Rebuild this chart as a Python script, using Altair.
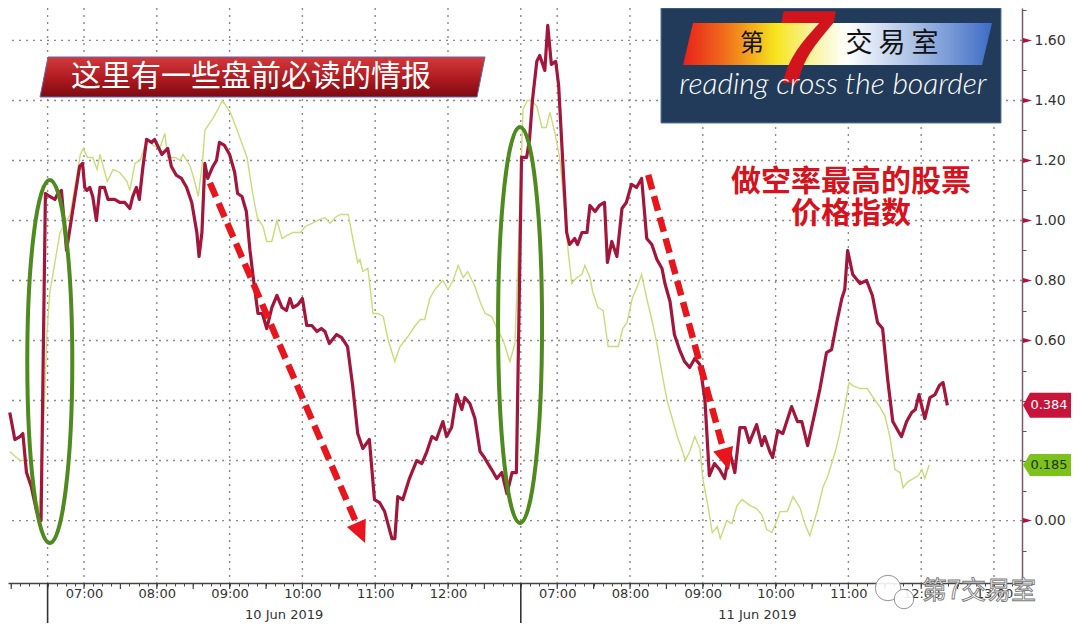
import altair as alt
import numpy as np
import pandas as pd

# ---------------- data (x = trading hours; day 2 clock time + 6.5) ----------------
red_t = [5.98, 6.05, 6.12, 6.16, 6.21, 6.28, 6.35, 6.41, 6.47, 6.53,
         6.60, 6.64, 6.69, 6.76, 6.83, 6.94, 6.98, 7.01, 7.04, 7.08,
         7.12, 7.17, 7.22, 7.28, 7.33, 7.42, 7.49, 7.56, 7.63, 7.67,
         7.72, 7.76, 7.81, 7.86, 7.93, 7.97, 8.01, 8.07, 8.11, 8.15,
         8.20, 8.27, 8.34, 8.41, 8.48, 8.55, 8.58, 8.62, 8.66, 8.70,
         8.77, 8.82, 8.86, 8.93, 9.00, 9.07, 9.11, 9.17, 9.23, 9.28,
         9.34, 9.39, 9.45, 9.51, 9.58, 9.65, 9.72, 9.78, 9.83, 9.87,
         9.94, 10.00, 10.06, 10.13, 10.20, 10.26, 10.31, 10.37, 10.47, 10.54,
         10.62, 10.69, 10.76, 10.83, 10.92, 10.99, 11.06, 11.13, 11.23, 11.27,
         11.31, 11.38, 11.47, 11.57, 11.64, 11.71, 11.78, 11.84, 11.93, 11.98,
         12.05, 12.12, 12.19, 12.23, 12.30, 12.37, 12.44, 12.50, 12.60, 12.67,
         12.74, 12.81, 12.88, 12.94, 13.01, 13.08, 13.12, 13.16, 13.22, 13.26,
         13.33, 13.37, 13.42, 13.48, 13.52, 13.58, 13.63, 13.67, 13.74, 13.78,
         13.84, 13.91, 13.95, 14.02, 14.08, 14.15, 14.19, 14.25, 14.32, 14.39,
         14.45, 14.52, 14.59, 14.66, 14.73, 14.80, 14.87, 14.94, 14.98, 15.05,
         15.11, 15.18, 15.25, 15.32, 15.39, 15.46, 15.53, 15.59, 15.66, 15.73,
         15.80, 15.87, 15.94, 16.01, 16.08, 16.14, 16.24, 16.31, 16.35, 16.42,
         16.46, 16.53, 16.60, 16.72, 16.80, 16.86, 16.94, 17.04, 17.11, 17.20,
         17.27, 17.34, 17.41, 17.45, 17.49, 17.56, 17.66, 17.75, 17.83, 17.90,
         17.97, 18.04, 18.11, 18.18, 18.23, 18.30, 18.37, 18.42, 18.47, 18.55,
         18.62, 18.69, 18.75, 18.80, 18.86]
red_v = [0.36, 0.27, 0.28, 0.29, 0.16, 0.11, 0.03, 0.00, 1.09, 1.08,
         1.07, 1.09, 1.10, 0.90, 1.01, 1.18, 1.19, 1.11, 1.10, 1.11,
         1.08, 1.00, 1.11, 1.11, 1.07, 1.07, 1.06, 1.06, 1.04, 1.08,
         1.11, 1.07, 1.18, 1.27, 1.26, 1.27, 1.25, 1.22, 1.23, 1.24,
         1.18, 1.15, 1.14, 1.11, 1.06, 0.96, 0.88, 0.96, 1.19, 1.14,
         1.18, 1.20, 1.26, 1.25, 1.22, 1.16, 1.09, 1.08, 1.03, 0.90,
         0.78, 0.69, 0.69, 0.64, 0.71, 0.75, 0.71, 0.70, 0.74, 0.71,
         0.72, 0.74, 0.65, 0.65, 0.63, 0.64, 0.63, 0.59, 0.62, 0.61,
         0.58, 0.45, 0.29, 0.24, 0.27, 0.07, 0.06, 0.03, -0.06, -0.06,
         0.08, 0.07, 0.14, 0.20, 0.19, 0.23, 0.28, 0.27, 0.33, 0.28,
         0.31, 0.42, 0.37, 0.41, 0.39, 0.34, 0.23, 0.21, 0.17, 0.14,
         0.16, 0.09, 0.16, 0.16, 1.21, 1.21, 1.27, 1.40, 1.53, 1.55,
         1.50, 1.65, 1.52, 1.53, 1.45, 1.18, 0.96, 0.92, 0.94, 0.92,
         0.96, 0.96, 1.05, 1.03, 1.05, 1.06, 0.86, 0.93, 0.88, 1.04,
         1.06, 1.12, 1.11, 1.14, 0.94, 0.92, 0.87, 0.84, 0.79, 0.73,
         0.62, 0.57, 0.53, 0.51, 0.54, 0.52, 0.40, 0.15, 0.19, 0.17,
         0.14, 0.23, 0.16, 0.31, 0.31, 0.26, 0.32, 0.25, 0.28, 0.23,
         0.21, 0.30, 0.29, 0.38, 0.33, 0.33, 0.25, 0.36, 0.44, 0.56,
         0.57, 0.66, 0.74, 0.77, 0.90, 0.82, 0.79, 0.80, 0.75, 0.66,
         0.64, 0.47, 0.33, 0.30, 0.28, 0.33, 0.36, 0.37, 0.42, 0.34,
         0.41, 0.42, 0.45, 0.46, 0.384]

green_t = [5.98, 6.12, 6.19, 6.30, 6.37, 6.42, 6.49, 6.53, 6.67, 6.81,
           6.95, 6.99, 7.05, 7.12, 7.18, 7.22, 7.32, 7.40, 7.49, 7.59,
           7.63, 7.70, 7.77, 7.87, 7.95, 8.04, 8.11, 8.15, 8.25, 8.32,
           8.36, 8.46, 8.52, 8.57, 8.63, 8.66, 8.77, 8.84, 8.90, 9.01,
           9.12, 9.24, 9.31, 9.38, 9.46, 9.51, 9.58, 9.65, 9.72, 9.79,
           9.87, 9.97, 10.04, 10.13, 10.21, 10.31, 10.38, 10.45, 10.52, 10.63,
           10.70, 10.76, 10.79, 10.83, 10.90, 10.97, 11.04, 11.11, 11.18, 11.27,
           11.34, 11.44, 11.55, 11.62, 11.68, 11.75, 11.82, 11.93, 12.00, 12.07,
           12.14, 12.21, 12.27, 12.37, 12.44, 12.51, 12.60, 12.67, 12.76, 12.85,
           12.92, 12.99, 13.03, 13.09, 13.15, 13.22, 13.29, 13.35, 13.40, 13.47,
           13.54, 13.61, 13.65, 13.70, 13.77, 13.84, 13.88, 13.95, 13.99, 14.06,
           14.13, 14.20, 14.27, 14.34, 14.40, 14.46, 14.53, 14.60, 14.66, 14.73,
           14.80, 14.87, 14.94, 15.01, 15.08, 15.15, 15.21, 15.26, 15.32, 15.39,
           15.46, 15.50, 15.57, 15.63, 15.70, 15.74, 15.83, 15.90, 15.97, 16.04,
           16.15, 16.24, 16.31, 16.38, 16.45, 16.52, 16.56, 16.66, 16.74, 16.84,
           16.90, 16.97, 17.07, 17.15, 17.22, 17.32, 17.38, 17.45, 17.51, 17.56,
           17.66, 17.76, 17.84, 17.93, 18.00, 18.07, 18.14, 18.21, 18.25, 18.32,
           18.39, 18.46, 18.51, 18.55, 18.61]
green_v = [0.23, 0.20, 0.20, 0.07, 0.01, 0.15, 0.62, 0.76, 0.96, 1.02,
           1.22, 1.24, 1.21, 1.21, 1.17, 1.22, 1.13, 1.17, 1.16, 1.13,
           1.10, 1.19, 1.20, 1.27, 1.25, 1.24, 1.29, 1.21, 1.21, 1.20,
           1.22, 1.18, 1.13, 1.08, 1.20, 1.30, 1.34, 1.37, 1.40, 1.36,
           1.29, 1.21, 1.10, 1.01, 0.98, 0.93, 0.93, 1.00, 0.94, 0.95,
           0.96, 0.96, 0.98, 0.99, 1.00, 1.01, 0.99, 1.01, 1.02, 1.02,
           0.93, 0.86, 0.87, 0.83, 0.84, 0.69, 0.69, 0.68, 0.60, 0.53,
           0.58, 0.61, 0.65, 0.67, 0.67, 0.74, 0.77, 0.80, 0.77, 0.80,
           0.85, 0.81, 0.83, 0.78, 0.73, 0.69, 0.68, 0.64, 0.60, 0.53,
           0.59, 1.07, 1.37, 1.40, 1.40, 1.38, 1.31, 1.31, 1.36, 1.29,
           1.20, 1.01, 0.90, 0.79, 0.81, 0.82, 0.85, 0.81, 0.76, 0.71,
           0.70, 0.58, 0.58, 0.58, 0.64, 0.66, 0.74, 0.78, 0.82, 0.74,
           0.67, 0.59, 0.49, 0.40, 0.34, 0.28, 0.24, 0.20, 0.23, 0.28,
           0.24, 0.14, 0.05, -0.04, -0.02, -0.06, 0.00, -0.01, 0.05, 0.07,
           0.05, 0.04, 0.02, -0.03, -0.04, 0.00, 0.03, 0.03, 0.08, 0.04,
           -0.01, -0.05, 0.03, 0.11, 0.15, 0.23, 0.29, 0.38, 0.46, 0.45,
           0.44, 0.44, 0.41, 0.38, 0.35, 0.28, 0.17, 0.16, 0.11, 0.13,
           0.14, 0.15, 0.17, 0.14, 0.185]

session_start = [6.5, 13.0]
session_end = [13.0, 19.5]
date_labels = ["10 Jun 2019", "11 Jun 2019"]
hour_ticks = [7, 8, 9, 10, 11, 12, 13.5, 14.5, 15.5, 16.5, 17.5, 18.5, 19.5]
y_major = [0.0, 0.2, 0.4, 0.6, 0.8, 1.0, 1.2, 1.4, 1.6]

# annotation anchors (data coordinates)
ellipse_t = [6.53, 12.99]
ellipse_v = [0.53, 0.652]
arrow_start_t = [8.73, 14.75]
arrow_start_v = [1.125, 1.152]
arrow_head_t = [10.786, 15.81]
arrow_head_v = [-0.033, 0.213]
arrow_angle = [156.7, 164.6]

banner_text = "这里有一些盘前必读的情报"
title_lines = ["做空率最高的股票", "价格指数"]
logo_slogan = "reading cross the boarder"
watermark = "第7交易室"

# ---------------- layout ----------------
W, H = 1014, 575
X_DOM = [5.956, 19.885]
Y_DOM = [-0.208, 1.708]
xs = alt.Scale(domain=X_DOM, nice=False, zero=False)
ys = alt.Scale(domain=Y_DOM, nice=False, zero=False)

RED = "#a3163c"
GREEN_LINE = "#c9dc7a"
FONT = "DejaVu Sans"

x_minor = np.round(np.arange(6.0, 19.88, 0.125), 4).tolist()
y_minor = np.round(np.arange(-0.2, 1.71, 0.1), 2).tolist()

xlab = ("datum.value < 12.9 ? "
        "(abs(datum.value - round(datum.value)) < 0.01 && datum.value > 6.9 ? "
        "(round(datum.value) < 10 ? '0' : '') + round(datum.value) + ':00' : '') : "
        "(abs(datum.value - 6.5 - round(datum.value - 6.5)) < 0.01 && datum.value > 13.2 ? "
        "(round(datum.value - 6.5) < 10 ? '0' : '') + round(datum.value - 6.5) + ':00' : '')")
ylab = ("abs(datum.value*5 - round(datum.value*5)) < 0.01 && datum.value > -0.01 && "
        "abs(datum.value-0.2) > 0.01 && abs(datum.value-0.4) > 0.01 ? format(datum.value, '.2f') : ''")

x_axis = alt.Axis(values=x_minor, labelExpr=xlab, tickSize=3, tickColor="#444",
                  domainColor="#444", domainWidth=1.5, labelFont=FONT, labelFontSize=13,
                  labelColor="#333", labelPadding=1, labelOverlap=False, labelFlush=False,
                  grid=False, title=None)
y_axis = alt.Axis(orient="right", values=y_minor, labelExpr=ylab, tickSize=4,
                  tickColor="#6a4a5a", domainColor="#7a5a6a", domainWidth=1.5,
                  labelFont=FONT, labelFontSize=14, labelColor="#333", labelPadding=8,
                  labelOverlap=False, grid=False, title=None)


def X(axis=None):
    return alt.X("t:Q", scale=xs, axis=axis)


def Y(axis=None):
    return alt.Y("v:Q", scale=ys, axis=axis)


def one(**kw):
    return pd.DataFrame({k: [v] for k, v in kw.items()} if kw else {"k": [0]})


layers = []

# grid
layers.append(alt.Chart(pd.DataFrame({"v": y_major})).mark_rule(
    strokeDash=[2, 5], color="#8a8a8a", strokeWidth=1.4).encode(y=Y()))
layers.append(alt.Chart(pd.DataFrame({"t": hour_ticks + session_start})).mark_rule(
    strokeDash=[2, 5], color="#8a8a8a", strokeWidth=1.4).encode(x=X()))

# series
gdf = pd.DataFrame({"t": green_t, "v": green_v})
rdf = pd.DataFrame({"t": red_t, "v": red_v})
layers.append(alt.Chart(gdf).mark_line(color=GREEN_LINE, strokeWidth=1.4).encode(
    x=X(x_axis), y=Y(y_axis)))
layers.append(alt.Chart(rdf).mark_line(color=RED, strokeWidth=3.2, strokeJoin="round").encode(
    x=X(), y=Y()))

# ellipses
def ellipse_path(w, h):
    rx = w / h
    k = 0.5523
    return (f"M0,-1 C{rx*k:.4f},-1 {rx:.4f},{-k} {rx:.4f},0 "
            f"C{rx:.4f},{k} {rx*k:.4f},1 0,1 "
            f"C{-rx*k:.4f},1 {-rx:.4f},{k} {-rx:.4f},0 "
            f"C{-rx:.4f},{-k} {-rx*k:.4f},-1 0,-1 Z")

for (et, ev, ew, eh) in [(ellipse_t[0], ellipse_v[0], 45, 363), (ellipse_t[1], ellipse_v[1], 44, 396)]:
    layers.append(alt.Chart(pd.DataFrame({"t": [et], "v": [ev]})).mark_point(
        shape=ellipse_path(ew, eh), size=eh * eh, filled=False, stroke="#4f8a1f",
        strokeWidth=4, opacity=1).encode(x=X(), y=Y()))

# dashed arrows
arr = pd.DataFrame({
    "a": [0, 0, 1, 1],
    "t": [arrow_start_t[0], arrow_head_t[0], arrow_start_t[1], arrow_head_t[1]],
    "v": [arrow_start_v[0], arrow_head_v[0], arrow_start_v[1], arrow_head_v[1]],
})
layers.append(alt.Chart(arr).mark_line(color="#e8161c", strokeWidth=6.5, strokeDash=[15, 7],
                                       strokeCap="butt").encode(x=X(), y=Y(), detail="a:N"))
heads = pd.DataFrame({"t": arrow_head_t, "v": arrow_head_v, "ang": arrow_angle})
layers.append(alt.Chart(heads).mark_point(shape="M0,-1 L0.75,0.6 L-0.75,0.6 Z", size=756,
                                          filled=True, color="#e8161c", opacity=1).encode(
    x=X(), y=Y(), angle=alt.Angle("ang:Q", scale=None)))

# red banner (top left)
banner_grad = alt.LinearGradient(gradient="linear", x1=0, x2=0, y1=0, y2=1, stops=[
    alt.GradientStop(color="#d23a3c", offset=0),
    alt.GradientStop(color="#b21c22", offset=0.5),
    alt.GradientStop(color="#7c0a10", offset=1)])
bw, bh, bs = 445.0, 40.0, 8.0
u = bw / 2
hh = bh / 2 / u
sl = bs / u
banner_path = f"M-1,{hh:.4f} L{-1+sl:.4f},{-hh:.4f} L1,{-hh:.4f} L{1-sl:.4f},{hh:.4f} Z"
layers.append(alt.Chart(one()).mark_point(shape=banner_path, size=bw * bw, filled=True,
                                          fill=banner_grad, stroke="#6a6aa8", strokeWidth=1,
                                          opacity=1).encode(x=alt.value(254.5), y=alt.value(69)))
layers.append(alt.Chart(one(s=banner_text)).mark_text(
    font="Noto Sans CJK SC", fontSize=30, color="white", baseline="middle", align="center").encode(
    x=alt.value(243), y=alt.value(69), text="s:N"))

# logo (top right)
layers.append(alt.Chart(one()).mark_rect(color="#223b5a", stroke="#5a7898", strokeWidth=1).encode(
    x=alt.value(653), x2=alt.value(993), y=alt.value(0), y2=alt.value(115)))
band_grad = alt.LinearGradient(gradient="linear", x1=0, x2=1, y1=0, y2=0, stops=[
    alt.GradientStop(color="#e8201c", offset=0),
    alt.GradientStop(color="#f06a1a", offset=0.13),
    alt.GradientStop(color="#f7e41e", offset=0.3),
    alt.GradientStop(color="#f8f4a0", offset=0.42),
    alt.GradientStop(color="#ffffff", offset=0.53),
    alt.GradientStop(color="#a9bfe4", offset=0.75),
    alt.GradientStop(color="#3d6cc6", offset=1)])
lw, lh, ls = 309.0, 42.0, 10.0
u2 = lw / 2
band_path = (f"M-1,{lh/2/u2:.4f} L{-1+ls/u2:.4f},{-lh/2/u2:.4f} L1,{-lh/2/u2:.4f} "
             f"L{1-ls/u2:.4f},{lh/2/u2:.4f} Z")
layers.append(alt.Chart(one()).mark_point(shape=band_path, size=lw * lw, filled=True,
                                          fill=band_grad, opacity=1, strokeWidth=0).encode(
    x=alt.value(829.5), y=alt.value(36)))
layers.append(alt.Chart(one(s="第")).mark_text(font="Noto Sans CJK SC", fontSize=24, color="#111",
                                               baseline="middle").encode(
    x=alt.value(744), y=alt.value(36), text="s:N"))
layers.append(alt.Chart(one(s="交 易 室")).mark_text(font="Noto Sans CJK SC", fontSize=27,
                                                   color="#111", baseline="middle").encode(
    x=alt.value(884), y=alt.value(36), text="s:N"))
layers.append(alt.Chart(one(s="7")).mark_text(font="Liberation Sans", fontSize=104, fontWeight="bold",
                                              fontStyle="italic", color="#d2151c",
                                              baseline="middle").encode(
    x=alt.value(795), y=alt.value(44), text="s:N"))
layers.append(alt.Chart(one(s=logo_slogan)).mark_text(font="Lato", fontSize=30, fontStyle="italic",
                                                      fontWeight=300, color="white",
                                                      baseline="middle").encode(
    x=alt.value(825), y=alt.value(77), text="s:N"))

# red title
for i, line in enumerate(title_lines):
    layers.append(alt.Chart(one(s=line)).mark_text(font="Noto Sans CJK SC", fontSize=30,
                                                   fontWeight="bold", color="#d8121c",
                                                   baseline="middle").encode(
        x=alt.value(843), y=alt.value(174 + 32 * i), text="s:N"))

# last-value tags on the right axis
tag_df = pd.DataFrame({"v": [red_v[-1], green_v[-1]],
                       "lab": [f"{red_v[-1]:.3f}", f"{green_v[-1]:.3f}"]})
red_tag = "M-1,0 L-0.71,-0.52 L1,-0.52 L1,0.52 L-0.71,0.52 Z"
green_tag = "M-1,0 L-0.71,-0.46 L1,-0.46 L1,0.46 L-0.71,0.46 Z"
layers.append(alt.Chart(tag_df.iloc[[0]]).mark_point(shape=red_tag, size=48 * 48, filled=True,
                                                     color="#c8143a", opacity=1).encode(
    x=alt.value(W + 25), y=Y()))
layers.append(alt.Chart(tag_df.iloc[[1]]).mark_point(shape=green_tag, size=48 * 48, filled=True,
                                                     color="#7cc21a", opacity=1).encode(
    x=alt.value(W + 25), y=Y()))
layers.append(alt.Chart(tag_df.iloc[[0]]).mark_text(font=FONT, fontSize=13, color="white",
                                                    baseline="middle").encode(
    x=alt.value(W + 27), y=Y(), text="lab:N"))
layers.append(alt.Chart(tag_df.iloc[[1]]).mark_text(font=FONT, fontSize=13, color="#1f3300",
                                                    baseline="middle").encode(
    x=alt.value(W + 27), y=Y(), text="lab:N"))

# major tick markers (red triangles)
tri_df = pd.DataFrame({"v": [v for v in y_major if v not in (0.2, 0.4)]})
layers.append(alt.Chart(tri_df).mark_point(shape="M-1,-0.55 L1,0 L-1,0.55 Z", size=81, filled=True,
                                           color="#b0103a", opacity=1).encode(
    x=alt.value(W + 5.5), y=Y()))

# hour / half-hour ticks under the axis
half_ticks = np.round(np.arange(6.0, 19.88, 0.5), 2).tolist()
layers.append(alt.Chart(pd.DataFrame({"t": half_ticks})).mark_rule(color="#444", strokeWidth=1.2).encode(
    x=X(), y=alt.value(H), y2=alt.value(H + 6)))
# session separators below axis
layers.append(alt.Chart(pd.DataFrame({"t": session_start})).mark_rule(color="#333", strokeWidth=1.6).encode(
    x=X(), y=alt.value(H), y2=alt.value(H + 40)))
# date labels centred on sessions
dl = pd.DataFrame({"t": [(a + b) / 2 for a, b in zip(session_start, session_end)], "lab": date_labels})
layers.append(alt.Chart(dl).mark_text(font=FONT, fontSize=13, color="#333", baseline="middle").encode(
    x=X(), y=alt.value(H + 32), text="lab:N"))

# watermark
layers.append(alt.Chart(pd.DataFrame({"k": [0, 1]})).mark_point(
    shape="circle", filled=True, fill="white", stroke="#8a8a8a", strokeWidth=1, opacity=0.9).encode(
    x=alt.X("k:Q", scale=alt.Scale(domain=[0, 1], range=[880, 896]), axis=None),
    y=alt.Y("k:Q", scale=alt.Scale(domain=[0, 1], range=[580, 591]), axis=None),
    size=alt.Size("k:Q", scale=alt.Scale(domain=[0, 1], range=[650, 380]), legend=None)))
layers.append(alt.Chart(one(s=watermark)).mark_text(font="Noto Sans CJK SC", fontSize=25,
                                                    color="white", stroke="#7a7a7a", strokeWidth=0.9,
                                                    baseline="middle").encode(
    x=alt.value(971), y=alt.value(583), text="s:N"))

chart = alt.layer(*layers).resolve_scale(x="independent", y="independent").properties(
    width=W, height=H,
    padding={"left": 0, "top": 0, "right": 50, "bottom": 40},
    autosize=alt.AutoSizeParams(type="none"),
    background="white"
).configure_view(stroke=None)

chart.save("out.html", embed_options={"renderer": "svg", "actions": False})
